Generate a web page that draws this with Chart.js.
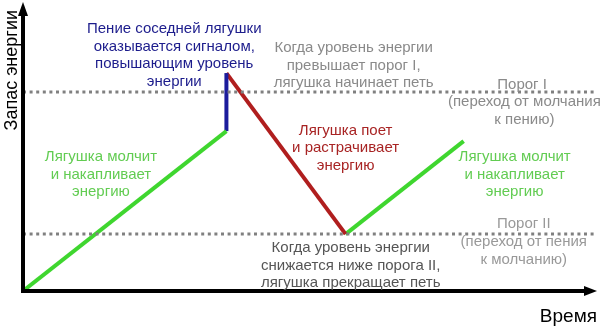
<!DOCTYPE html>
<html>
<head>
<meta charset="utf-8">
<script src="https://cdn.jsdelivr.net/npm/chart.js"></script>
<style>
  body { margin: 0; background: #fff; }
  #wrap { width: 600px; height: 327px; }
</style>
</head>
<body>
<div id="wrap"><canvas id="myChart"></canvas></div>
<script>
// energy curve of the frog (time / energy, 0..100)
const timePoints = [0, 35.5, 35.5, 56.3, 76.9];
const energyLevels = [0, 55.9, 76.2, 19.9, 52.4];
const thresholdValues = [69.6, 19.9];

const FONT = '"Liberation Sans", Arial, sans-serif';

// text labels, anchored in data coordinates
const notes = [
    { lines: ['Пение соседней лягушки', 'оказывается сигналом,', 'повышающим уровень', 'энергии'], x: 26.4, y: 91.6, color: '#1c1c8c' },
    { lines: ['Когда уровень энергии', 'превышает порог I,', 'лягушка начинает петь'], x: 57.7, y: 85.0, color: '#8a8a8a' },
    { lines: ['Порог I'], x: 87.1, y: 72.0, color: '#8a8a8a' },
    { lines: ['(переход от молчания', 'к пению)'], x: 87.5, y: 66.0, color: '#8a8a8a' },
    { lines: ['Лягушка поет', 'и растрачивает', 'энергию'], x: 56.3, y: 56.1, color: '#a82424' },
    { lines: ['Лягушка молчит', 'и накапливает', 'энергию'], x: 13.6, y: 46.9, color: '#62cc52' },
    { lines: ['Лягушка молчит', 'и накапливает', 'энергию'], x: 85.8, y: 46.9, color: '#62cc52' },
    { lines: ['Порог II'], x: 87.4, y: 23.4, color: '#999999' },
    { lines: ['(переход от пения', 'к молчанию)'], x: 87.4, y: 17.1, color: '#999999' },
    { lines: ['Когда уровень энергии', 'снижается ниже порога II,', 'лягушка прекращает петь'], x: 57.2, y: 15.0, color: '#555555' }
];

function pts(from, to) {
    const out = [];
    for (let i = from; i <= to; i++) out.push({ x: timePoints[i], y: energyLevels[i] });
    return out;
}

function level(v) {
    return [{ x: 0, y: v }, { x: 100, y: v }];
}

const segStyle = { borderWidth: 4, pointRadius: 0, tension: 0, fill: false };

const drawExtras = {
    id: 'drawExtras',
    afterDatasetsDraw(chart) {
        const ctx = chart.ctx;
        const a = chart.chartArea;
        const xs = chart.scales.x, ys = chart.scales.y;
        ctx.save();

        // axes with arrows
        ctx.strokeStyle = '#000';
        ctx.fillStyle = '#000';
        ctx.lineWidth = 4;
        ctx.beginPath();
        ctx.moveTo(a.left, a.bottom + 2);
        ctx.lineTo(a.left, a.top + 8);
        ctx.moveTo(a.left - 2, a.bottom);
        ctx.lineTo(a.right - 8, a.bottom);
        ctx.stroke();
        ctx.beginPath();
        ctx.moveTo(a.left, a.top - 3);
        ctx.lineTo(a.left - 5, a.top + 11);
        ctx.lineTo(a.left + 5, a.top + 11);
        ctx.closePath();
        ctx.fill();
        ctx.beginPath();
        ctx.moveTo(a.right + 1, a.bottom);
        ctx.lineTo(a.right - 12, a.bottom - 5);
        ctx.lineTo(a.right - 12, a.bottom + 5);
        ctx.closePath();
        ctx.fill();

        // notes
        ctx.textAlign = 'center';
        ctx.textBaseline = 'middle';
        ctx.font = '15px ' + FONT;
        notes.forEach(n => {
            const cx = xs.getPixelForValue(n.x);
            const cy = ys.getPixelForValue(n.y);
            ctx.fillStyle = n.color;
            n.lines.forEach((t, i) => ctx.fillText(t, cx, cy + i * 17.5));
        });

        // axis titles
        ctx.fillStyle = '#000';
        ctx.font = '19px ' + FONT;
        ctx.textAlign = 'right';
        ctx.fillText('Время', 597, 317);
        ctx.font = '18px ' + FONT;
        ctx.translate(12, a.top + 5);
        ctx.rotate(-Math.PI / 2);
        ctx.textAlign = 'right';
        ctx.fillText('Запас энергии', 0, 0);
        ctx.restore();
    }
};

const ctx = document.getElementById('myChart').getContext('2d');
const myChart = new Chart(ctx, {
    type: 'line',
    data: {
        datasets: [
            { label: 'Порог I', data: level(thresholdValues[0]), borderColor: '#808080', borderWidth: 3, borderDash: [3, 3.6], pointRadius: 0 },
            { label: 'Порог II', data: level(thresholdValues[1]), borderColor: '#808080', borderWidth: 3, borderDash: [3, 3.6], pointRadius: 0 },
            { label: 'накопление', data: pts(0, 1), borderColor: '#3fd62f', ...segStyle },
            { label: 'сигнал', data: pts(1, 2), borderColor: '#1c1c9c', ...segStyle },
            { label: 'пение', data: pts(2, 3), borderColor: '#b01e1e', ...segStyle },
            { label: 'накопление 2', data: pts(3, 4), borderColor: '#3fd62f', ...segStyle }
        ]
    },
    options: {
        responsive: true,
        maintainAspectRatio: false,
        animation: false,
        layout: { padding: { left: 23, right: 4, top: 5, bottom: 36 } },
        plugins: {
            legend: { display: false },
            tooltip: { enabled: false }
        },
        scales: {
            x: { type: 'linear', min: 0, max: 100, display: false },
            y: { type: 'linear', min: 0, max: 100, display: false }
        }
    },
    plugins: [drawExtras]
});
</script>
</body>
</html>
